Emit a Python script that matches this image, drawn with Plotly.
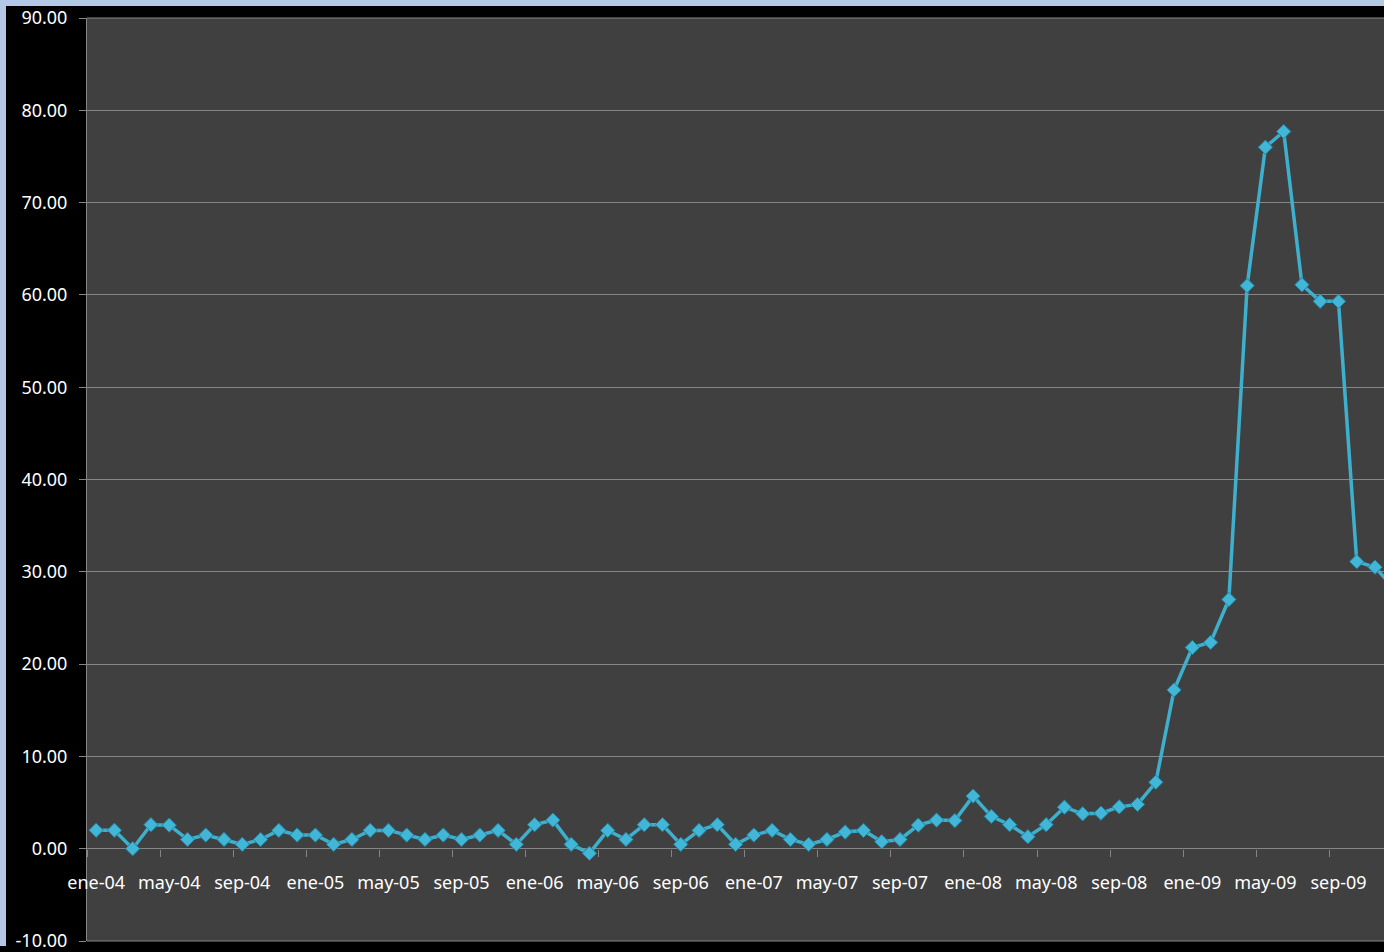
import plotly.graph_objects as go

# Monthly categories (Spanish abbreviations), ene-04 .. dic-09
month_names = ["ene", "feb", "mar", "abr", "may", "jun",
               "jul", "ago", "sep", "oct", "nov", "dic"]
years = ["04", "05", "06", "07", "08", "09"]
categories = [f"{m}-{y}" for y in years for m in month_names]

# Series values
values = [
    2.0, 2.0, 0.0, 2.6, 2.55, 1.0, 1.48, 1.0, 0.47, 1.0, 1.98, 1.48,      # 2004
    1.48, 0.47, 1.0, 1.98, 1.98, 1.48, 1.0, 1.48, 1.0, 1.48, 1.98, 0.47,  # 2005
    2.6, 3.1, 0.47, -0.5, 1.98, 1.0, 2.6, 2.6, 0.47, 1.98, 2.6, 0.47,     # 2006
    1.48, 1.98, 1.0, 0.47, 1.0, 1.8, 1.98, 0.76, 1.0, 2.55, 3.1, 3.05,    # 2007
    5.7, 3.5, 2.6, 1.3, 2.6, 4.5, 3.78, 3.85, 4.53, 4.8, 7.2, 17.2,       # 2008
    21.8, 22.35, 27.0, 61.0, 76.0, 77.7, 61.1, 59.3, 59.3, 31.1, 30.5, 28.3,  # 2009
]

y_ticks = [-10, 0, 10, 20, 30, 40, 50, 60, 70, 80, 90]
x_label_step = 4

x_idx = list(range(len(values)))
tick_idx = x_idx[::x_label_step]
tick_text = [categories[i] for i in tick_idx]

W, H = 1384, 952
ML, MT, MB = 87, 18, 5
plot_w = W - ML
plot_h = H - MT - MB
Y_MIN, Y_MAX = -10, 90
GRID = "rgb(134,134,134)"
BLUE_FRAME = "rgb(180,199,231)"

fig = go.Figure()
fig.add_trace(go.Scatter(
    x=x_idx, y=values, mode="lines+markers",
    line=dict(color="rgb(62,176,206)", width=3.5),
    marker=dict(symbol="diamond", size=11, color="rgb(66,182,214)",
                line=dict(color="rgb(36,130,160)", width=1)),
    showlegend=False,
))

font = dict(family="Noto Sans, Open Sans, DejaVu Sans", size=18, color="white")

fig.update_layout(
    width=W, height=H,
    margin=dict(l=ML, r=0, t=MT, b=MB, pad=0),
    paper_bgcolor="black",
    plot_bgcolor="rgb(64,64,64)",
    font=font,
    xaxis=dict(
        range=[-0.5, (W - ML) / 18.27 - 0.5],
        anchor="free", position=(0 - Y_MIN) / (Y_MAX - Y_MIN),
        tickmode="array", tickvals=tick_idx, ticktext=tick_text,
        ticks="", showgrid=False, zeroline=False,
        showline=False,
        ticklabelstandoff=21,
        minor=dict(tickmode="linear", tick0=-0.5, dtick=x_label_step,
                   ticks="outside", ticklen=7, tickcolor=GRID,
                   tickwidth=1, showgrid=False),
        tickfont=font,
    ),
    yaxis=dict(
        range=[Y_MIN, Y_MAX],
        tickmode="array", tickvals=y_ticks,
        ticktext=[f"{v:.2f}" for v in y_ticks],
        ticks="outside", ticklen=7, tickcolor=GRID,
        showgrid=True, gridcolor=GRID, gridwidth=1,
        zeroline=True, zerolinecolor=GRID, zerolinewidth=1,
        showline=True, linecolor=GRID, linewidth=1,
        ticklabelstandoff=8,
        ticklabeloverflow="allow",
        tickfont=font,
    ),
    shapes=[
        # light-blue frame strips (top and left edge of the window)
        dict(type="rect", xref="paper", yref="paper", layer="below",
             x0=-ML / plot_w, x1=1.0, y0=(plot_h + MT - 6) / plot_h, y1=(plot_h + MT) / plot_h,
             fillcolor=BLUE_FRAME, line=dict(width=0)),
        dict(type="rect", xref="paper", yref="paper", layer="below",
             x0=-ML / plot_w, x1=(6 - ML) / plot_w, y0=-MB / plot_h, y1=(plot_h + MT) / plot_h,
             fillcolor=BLUE_FRAME, line=dict(width=0)),
        # top and bottom edge lines of the plot area
        dict(type="line", xref="paper", yref="paper", x0=0, x1=1, y0=1, y1=1,
             line=dict(color=GRID, width=1)),
        dict(type="line", xref="paper", yref="paper", x0=0, x1=1, y0=0, y1=0,
             line=dict(color=GRID, width=1)),
    ],
)

fig.write_html(
    "out.html",
    config={"displayModeBar": False},
    post_script="document.body.style.margin='0';document.body.style.overflow='hidden';",
)
